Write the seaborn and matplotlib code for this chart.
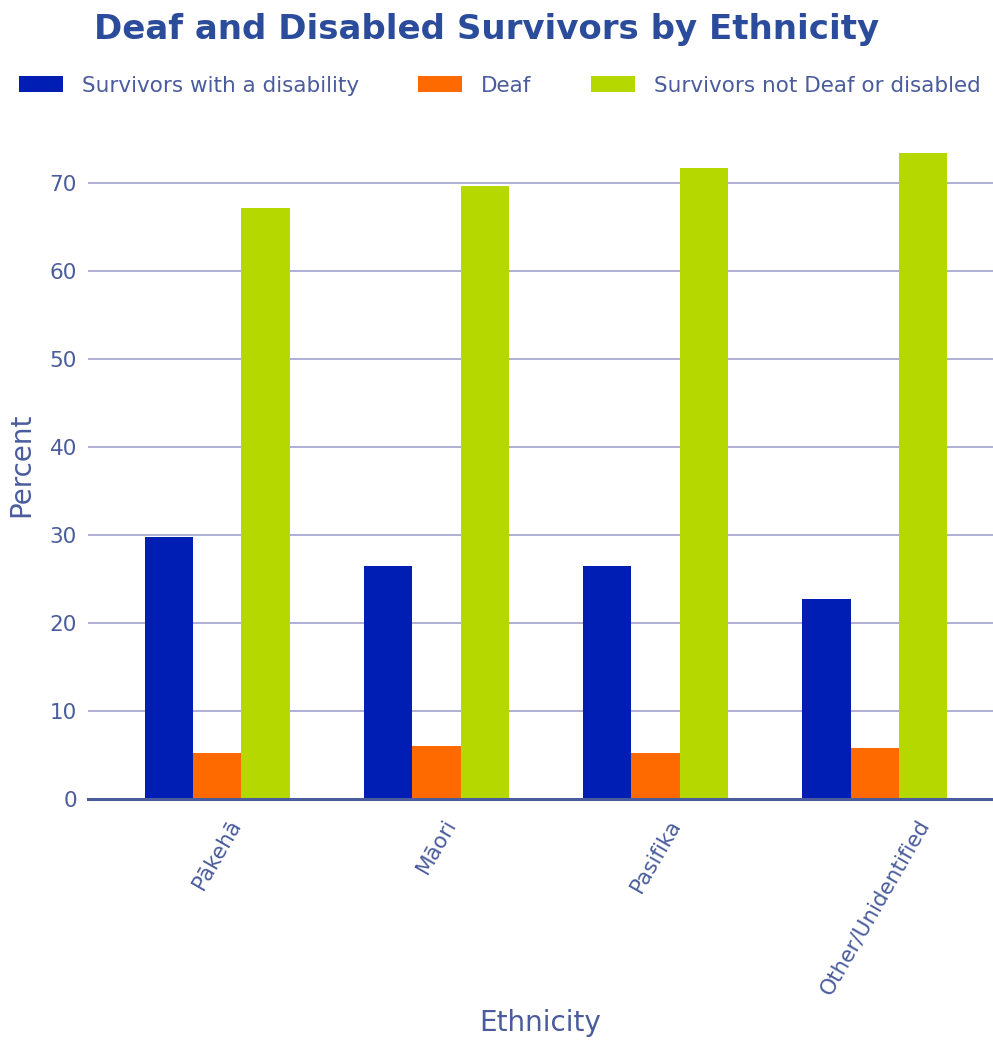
import matplotlib
matplotlib.use("Agg")
import matplotlib.pyplot as plt
import seaborn as sns
import pandas as pd

categories = ["Pākehā", "Māori", "Pasifika", "Other/Unidentified"]
series_names = ["Survivors with a disability", "Deaf", "Survivors not Deaf or disabled"]
disability = [29.8, 26.5, 26.5, 22.7]
deaf = [5.2, 6.0, 5.2, 5.8]
not_deaf_disabled = [67.2, 69.7, 71.7, 73.4]
y_ticks = [0, 10, 20, 30, 40, 50, 60, 70]

colors = ["#001EB4", "#FF6A00", "#B5D800"]
text_color = "#4A5C9C"

rows = []
for name, vals in zip(series_names, [disability, deaf, not_deaf_disabled]):
    for c, v in zip(categories, vals):
        rows.append({"Ethnicity": c, "Series": name, "Percent": v})
df = pd.DataFrame(rows)

sns.set_theme(style="white")
plt.rcParams['font.family'] = ['DejaVu Sans']

fig = plt.figure(figsize=(9.93, 10.43), dpi=100)
ax = fig.add_axes([0.0886, 0.234, 0.9114, 0.641])

sns.barplot(data=df, x="Ethnicity", y="Percent", hue="Series", order=categories,
            hue_order=series_names, palette=colors, width=0.66, saturation=1,
            edgecolor="none", linewidth=0, ax=ax, legend=True)

ax.set_xlim(-0.59, 3.54)
ax.set_ylim(0, 76)
ax.set_yticks(y_ticks)
ax.yaxis.grid(True, color="#A9A9D2", linewidth=1.3)
ax.set_axisbelow(True)
for s in ["top", "right", "left"]:
    ax.spines[s].set_visible(False)
ax.spines["bottom"].set_color("#4A5C9C")
ax.spines["bottom"].set_linewidth(2.2)
ax.tick_params(axis="both", length=0, colors=text_color, labelsize=15.5)
ax.tick_params(axis="y", pad=8)
plt.setp(ax.get_xticklabels(), rotation=60, ha="center", va="top", rotation_mode="default")
ax.tick_params(axis="x", pad=12)
ax.set_ylabel("Percent", color=text_color, fontsize=20, labelpad=10)
ax.set_xlabel("Ethnicity", color=text_color, fontsize=20, labelpad=8)

handles, labels = ax.get_legend_handles_labels()
ax.get_legend().remove()
fig.legend(handles, labels, loc="center", bbox_to_anchor=(0.503, 0.918), ncol=3,
           frameon=False, fontsize=15.5, labelcolor=text_color, handlelength=2.05,
           handleheight=0.8, columnspacing=2.75, handletextpad=0.88)

fig.text(0.49, 0.972, "Deaf and Disabled Survivors by Ethnicity", ha="center", va="center",
         fontsize=24.5, fontweight="bold", color="#2B4C9A")

fig.savefig("out.png", dpi=100)
